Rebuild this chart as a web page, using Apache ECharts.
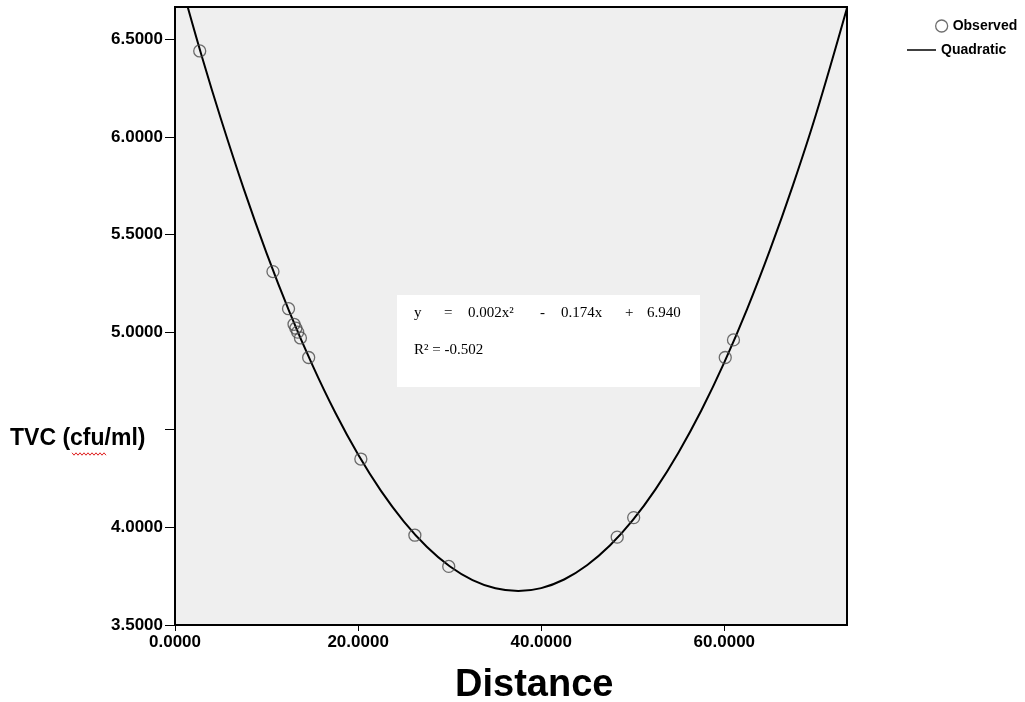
<!DOCTYPE html>
<html>
<head>
<meta charset="utf-8">
<script src="https://cdn.jsdelivr.net/npm/echarts@6/dist/echarts.min.js"></script>
<style>
  html, body { margin: 0; background: #fff; }
  #chart { width: 1025px; height: 702px; }
</style>
</head>
<body>
<div id="chart"></div>
<script>
// observed points (Distance, TVC)
const distance = [2.7, 10.7, 12.4, 13.0, 13.2, 13.4, 13.7, 14.6, 20.3, 26.2, 29.9, 48.3, 50.1, 60.1, 61.0]
const tvc = [6.44, 5.31, 5.12, 5.04, 5.02, 5.00, 4.97, 4.87, 4.35, 3.96, 3.80, 3.95, 4.05, 4.87, 4.96]

// quadratic fit line
const fitDistance = [1.0, 3, 5, 7.5, 10, 12.5, 15, 17.5, 20, 22.5, 25, 27.5, 30, 32.5, 35, 37.5,
  40, 42.5, 45, 47.5, 50, 52.5, 55, 57.5, 60, 62.5, 65, 67.5, 70, 73.4]
const fitTvc = [6.730, 6.401, 6.094, 5.735, 5.405, 5.104, 4.832, 4.588, 4.373, 4.187, 4.030, 3.901, 3.801, 3.730, 3.688, 3.674,
  3.689, 3.733, 3.806, 3.907, 4.037, 4.196, 4.384, 4.600, 4.845, 5.119, 5.422, 5.753, 6.113, 6.660]

// ticks
const xTicks = [0, 20, 40, 60]
const xTickLabels = ['0.0000', '20.0000', '40.0000', '60.0000']
const yTicks = [3.5, 4.0, 4.5, 5.0, 5.5, 6.0, 6.5]
const yTickLabels = ['3.5000', '4.0000', '', '5.0000', '5.5000', '6.0000', '6.5000']

const eqParts = ['y', '=', '0.002x²', '-', '0.174x', '+', '6.940']
const rSquared = 'R² = -0.502'

const sans = '"Liberation Sans", Arial, sans-serif'
const serif = '"Liberation Serif", "Times New Roman", serif'

const chart = echarts.init(document.getElementById('chart'), null, { renderer: 'canvas' })

const labelFor = (ticks, labels) => (v) => {
  const i = ticks.findIndex(t => Math.abs(t - v) < 1e-6)
  return i < 0 ? '' : labels[i]
}

// equation text pieces
const eqX = [414, 444, 468, 540, 561, 625, 647]
const eqGraphics = eqParts.map((t, i) => ({
  type: 'text', left: eqX[i], top: 306, z: 101,
  style: { text: t, font: '15px ' + serif, fill: '#000' }
}))

// red spell-check squiggle under "cfu"
const squiggle = []
for (let x = 72; x <= 107; x += 2) squiggle.push([x, 454 + ((x / 2) % 2 === 0 ? -1.2 : 1.2)])

const legendText = { fontFamily: sans, fontWeight: 'bold', fontSize: 14, color: '#000' }
const ringStyle = { color: 'rgba(0,0,0,0)', borderColor: '#4a4a4a', borderWidth: 1.3 }

const option = {
  animation: false,
  backgroundColor: '#fff',
  grid: {
    left: 175, right: 178, top: 7, bottom: 77,
    show: true, backgroundColor: '#efefef', borderColor: '#000', borderWidth: 2
  },
  legend: [
    {
      data: [{ name: 'Observed', icon: 'circle', itemStyle: ringStyle }],
      left: 930, top: 14, itemWidth: 12, itemHeight: 12, selectedMode: false,
      textStyle: legendText
    },
    {
      data: [{ name: 'Quadratic', icon: 'rect', itemStyle: { color: '#000' } }],
      left: 902, top: 38, itemWidth: 29, itemHeight: 1.5, selectedMode: false,
      textStyle: legendText
    }
  ],
  xAxis: {
    type: 'value', min: 0, max: 73.4, interval: 20,
    splitLine: { show: false },
    axisLine: { show: true, lineStyle: { color: '#000', width: 2 } },
    axisTick: { show: true, length: 6, customValues: xTicks, lineStyle: { color: '#000', width: 1 } },
    axisLabel: {
      customValues: xTicks, formatter: labelFor(xTicks, xTickLabels), margin: 9,
      fontFamily: sans, fontWeight: 'bold', fontSize: 17, color: '#000'
    }
  },
  yAxis: {
    type: 'value', min: 3.5, max: 6.665, interval: 0.5,
    splitLine: { show: false },
    axisLine: { show: true, lineStyle: { color: '#000', width: 2 } },
    axisTick: { show: true, length: 10, customValues: yTicks, lineStyle: { color: '#000', width: 1 } },
    axisLabel: {
      customValues: yTicks, formatter: labelFor(yTicks, yTickLabels), margin: 12,
      fontFamily: sans, fontWeight: 'bold', fontSize: 17, color: '#000'
    }
  },
  series: [
    {
      name: 'Observed', type: 'scatter', z: 3,
      symbol: 'circle', symbolSize: 12,
      itemStyle: ringStyle,
      data: distance.map((d, i) => [d, tvc[i]])
    },
    {
      name: 'Quadratic', type: 'line', z: 2,
      smooth: 0.4, symbol: 'none', showSymbol: false, clip: true,
      lineStyle: { color: '#000', width: 2 },
      itemStyle: { color: '#000' },
      data: fitDistance.map((d, i) => [d, fitTvc[i]])
    }
  ],
  graphic: [
    {
      type: 'rect', z: 100, shape: { x: 397, y: 295, width: 303, height: 92 },
      style: { fill: '#fff' }
    },
    ...eqGraphics,
    {
      type: 'text', left: 414, top: 343, z: 101,
      style: { text: rSquared, font: '15px ' + serif, fill: '#000' }
    },
    {
      type: 'text', left: 10, top: 427,
      style: { text: 'TVC (cfu/ml)', font: 'bold 23px ' + sans, fill: '#000' }
    },
    {
      type: 'polyline', shape: { points: squiggle },
      style: { stroke: '#e02020', lineWidth: 1, fill: null }
    },
    {
      type: 'text', left: 455, top: 667,
      style: { text: 'Distance', font: 'bold 38px ' + sans, fill: '#000' }
    }
  ]
}

chart.setOption(option)
</script>
</body>
</html>
